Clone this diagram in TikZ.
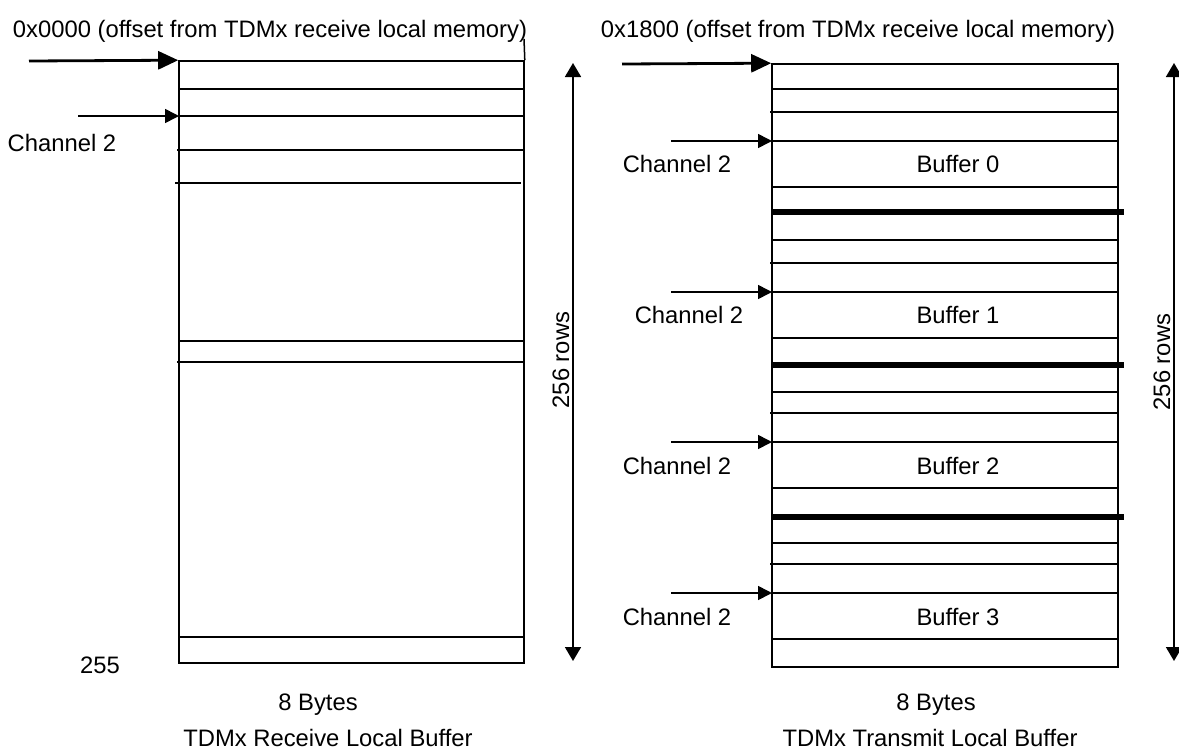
\documentclass[tikz,border=0pt]{standalone}
\usepackage{fontspec}
\setmainfont{Liberation Sans}
\usepackage{tikz}
\usetikzlibrary{
  positioning,
  arrows.meta,
  calc
}
\definecolor{gridline}{RGB}{0,0,0}
\definecolor{labeltext}{RGB}{0,0,0}
\tikzset{
  membox/.style={
    draw=gridline, line width=0.8pt, inner sep=0pt
  },
  rowline/.style={
    draw=gridline, line width=0.75pt
  },
  splitline/.style={
    draw=gridline, line width=3pt
  },
  lbl/.style={
    font=\fontsize{11.9}{14}\selectfont, text=labeltext, inner sep=0pt
  },
  ptrarrow/.style={
    -{Triangle[length=10pt,width=9pt]}, line width=1.4pt, draw=gridline
  },
  charrow/.style={
    -{Triangle[length=7pt,width=7pt]}, line width=0.8pt, draw=gridline
  },
  rowsarrow/.style={
    {Triangle[length=7pt,width=8pt]}-{Triangle[length=7pt,width=8pt]},
    line width=0.9pt, draw=gridline
  }
}

\begin{document}
\begin{tikzpicture}[x=0.5pt, y=-0.5pt]
    \useasboundingbox (0,0) rectangle (1179,750);

    % Receive buffer
    \node[lbl] (rxhdr) at (270,31) {0x0000 (offset from TDMx receive local memory)};
    \node[membox, minimum width=172.5pt, minimum height=301pt] (rxbuf) at (351.5,362) {};
    \draw[rowline] (rxbuf.north east) -- (524,39);
    \draw[rowline] (179,89) -- (524,89);
    \draw[rowline] (179,116) -- (524,116);
    \draw[rowline] (177,150) -- (524,150);
    \draw[rowline] (175,183) -- (521,183);
    \draw[rowline] (179,341) -- (524,341);
    \draw[rowline] (177,362) -- (524,362);
    \draw[rowline] (179,637) -- (524,637);

    \coordinate (rxptr) at (29,61);
    \draw[ptrarrow] (rxptr) -- (rxbuf.north west);
    \coordinate (rxchs) at (78,116);
    \coordinate (rxch) at (179,116);
    \draw[charrow] (rxchs) -- (rxch);
    \node[lbl] (rxchlbl) at (62,143) {Channel 2};
    \node[lbl] (rxlast) at (100,665) {255};

    \coordinate (rxtop) at (573,63);
    \coordinate (rxbot) at (573,661);
    \draw[rowsarrow] (rxtop) -- (rxbot);
    \node[lbl, rotate=90] (rxrows) at (561,360) {256 rows};

    \node[lbl] (rxbytes) at (318,705) {8 Bytes};
    \node[lbl] (rxname) at (328,738) {TDMx Receive Local Buffer};

    % Transmit buffer
    \node[lbl] (txhdr) at (858,31) {0x1800 (offset from TDMx receive local memory)};
    \node[membox, minimum width=173pt, minimum height=301.5pt] (txbuf) at (945,365.5) {};

    % Block 0
    \draw[rowline] (772,89) -- (1118,89);
    \draw[rowline] (770,112) -- (1118,112);
    \draw[rowline] (772,141) -- (1118,141);
    \draw[rowline] (772,187) -- (1118,187);
    \draw[splitline] (771,212) -- (1124,212);
    % Block 1
    \draw[rowline] (772,240) -- (1118,240);
    \draw[rowline] (770,263) -- (1118,263);
    \draw[rowline] (772,292) -- (1118,292);
    \draw[rowline] (772,338) -- (1118,338);
    \draw[splitline] (771,365) -- (1124,365);
    % Block 2
    \draw[rowline] (772,392) -- (1118,392);
    \draw[rowline] (770,413) -- (1118,413);
    \draw[rowline] (772,442) -- (1118,442);
    \draw[rowline] (772,488) -- (1118,488);
    \draw[splitline] (771,517) -- (1124,517);
    % Block 3
    \draw[rowline] (772,543) -- (1118,543);
    \draw[rowline] (770,564) -- (1118,564);
    \draw[rowline] (772,593) -- (1118,593);
    \draw[rowline] (772,639) -- (1118,639);

    \node[lbl] (buf0) at (958,164) {Buffer 0};
    \node[lbl] (buf1) at (958,315) {Buffer 1};
    \node[lbl] (buf2) at (958,466) {Buffer 2};
    \node[lbl] (buf3) at (958,617) {Buffer 3};

    \coordinate (txptr) at (622,64);
    \draw[ptrarrow] (txptr) -- (txbuf.north west);

    \coordinate (ch0s) at (671,141);
    \coordinate (ch0) at (772,141);
    \coordinate (ch1s) at (671,292);
    \coordinate (ch1) at (772,292);
    \coordinate (ch2s) at (671,442);
    \coordinate (ch2) at (772,442);
    \coordinate (ch3s) at (671,593);
    \coordinate (ch3) at (772,593);
    \draw[charrow] (ch0s) -- (ch0);
    \draw[charrow] (ch1s) -- (ch1);
    \draw[charrow] (ch2s) -- (ch2);
    \draw[charrow] (ch3s) -- (ch3);
    \node[lbl] (ch0lbl) at (677,164) {Channel 2};
    \node[lbl] (ch1lbl) at (689,315) {Channel 2};
    \node[lbl] (ch2lbl) at (677,466) {Channel 2};
    \node[lbl] (ch3lbl) at (677,617) {Channel 2};

    \coordinate (txtop) at (1174,63);
    \coordinate (txbot) at (1174,661);
    \draw[rowsarrow] (txtop) -- (txbot);
    \node[lbl, rotate=90] (txrows) at (1162,362) {256 rows};

    \node[lbl] (txbytes) at (936,705) {8 Bytes};
    \node[lbl] (txname) at (930,738) {TDMx Transmit Local Buffer};

\end{tikzpicture}
\end{document}
